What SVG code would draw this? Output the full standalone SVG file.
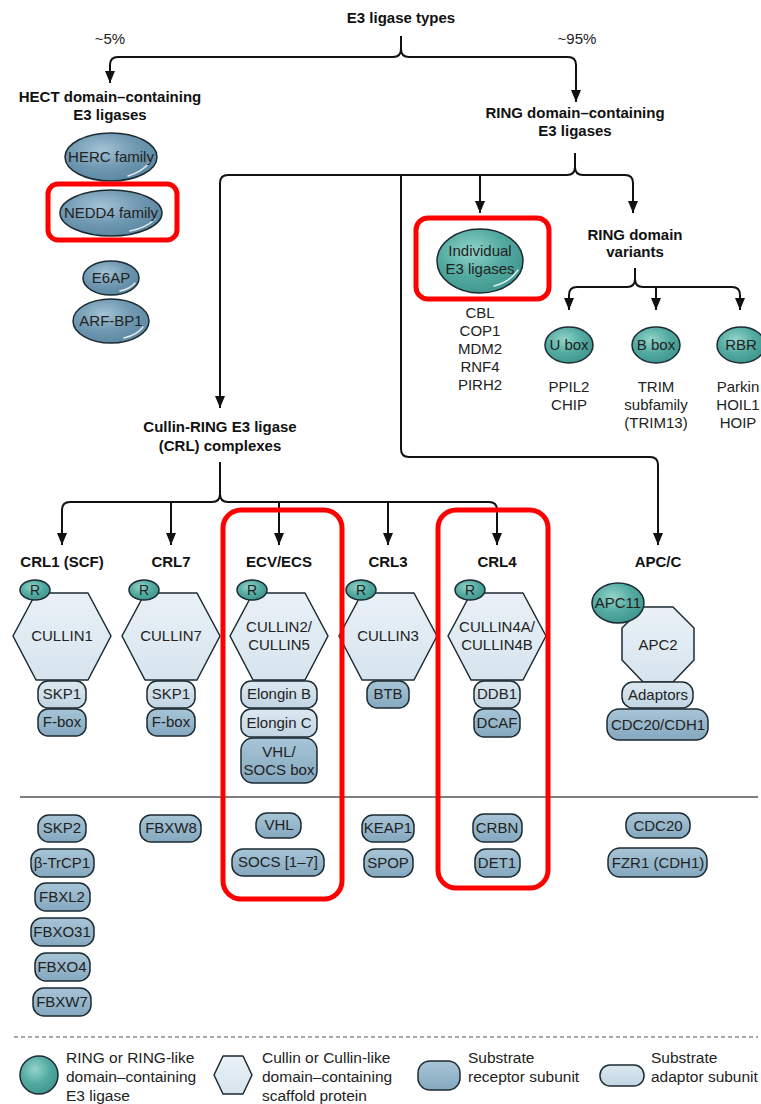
<svg xmlns="http://www.w3.org/2000/svg" width="761" height="1104" viewBox="0 0 761 1104">
<defs>
<style>
.t{font-family:"Liberation Sans",Arial,sans-serif;font-size:15px;fill:#222;text-anchor:middle}
.r{font-family:"Liberation Sans",Arial,sans-serif;font-size:14px;fill:#222;text-anchor:middle}
.lg{font-family:"Liberation Sans",Arial,sans-serif;font-size:15.5px;fill:#222}
.b{font-family:"Liberation Sans",Arial,sans-serif;font-weight:bold;font-size:15px;fill:#111;text-anchor:middle}
.hect{fill:url(#gHect);stroke:#1c2a32;stroke-width:1.5}
.teal{fill:url(#gTeal);stroke:#1c2a32;stroke-width:1.5}
.hex{fill:url(#gHex);stroke:#1c2a32;stroke-width:1.5;stroke-linejoin:round}
.ad{fill:url(#gAd);stroke:#1c2a32;stroke-width:1.5}
.rc{fill:url(#gRc);stroke:#1c2a32;stroke-width:1.5}
.c{fill:none;stroke:#111;stroke-width:2}
.hl{fill:none;stroke:#ff0000;stroke-width:5}
.gl{fill:none;stroke:#ffffff;stroke-width:1.5;stroke-linecap:round;opacity:0.8}
</style>
<radialGradient id="gHect" cx="0.4" cy="0.35" r="0.7"><stop offset="0" stop-color="#a4c3d6"/><stop offset="0.55" stop-color="#6f98b1"/><stop offset="1" stop-color="#5a86a0"/></radialGradient>
<radialGradient id="gTeal" cx="0.4" cy="0.35" r="0.7"><stop offset="0" stop-color="#93d4cb"/><stop offset="0.55" stop-color="#52aaa0"/><stop offset="1" stop-color="#3f958b"/></radialGradient>
<linearGradient id="gHex" x1="0" y1="0" x2="0" y2="1"><stop offset="0" stop-color="#e9f1f7"/><stop offset="1" stop-color="#d7e4ee"/></linearGradient>
<linearGradient id="gAd" x1="0" y1="0" x2="0" y2="1"><stop offset="0" stop-color="#dce9f1"/><stop offset="1" stop-color="#c2d5e3"/></linearGradient>
<linearGradient id="gRc" x1="0" y1="0" x2="0" y2="1"><stop offset="0" stop-color="#a8c5d7"/><stop offset="1" stop-color="#85a8bf"/></linearGradient>
<marker id="ah" markerUnits="userSpaceOnUse" markerWidth="12" markerHeight="10" refX="12" refY="5" orient="auto"><path d="M0,0 L12,5 L0,10 z" fill="#111"/></marker>
</defs>
<rect width="761" height="1104" fill="#fff"/>

<g id="connectors">
<path class="c" d="M401,36 V49 Q401,57 393,57 H118 Q110,57 110,65 V83" marker-end="url(#ah)"/>
<path class="c" d="M401,49 Q401,57 409,57 H568 Q576,57 576,65 V102" marker-end="url(#ah)"/>
<path class="c" d="M575,153 V167 Q575,175 567,175 H228 Q220,175 220,183 V408" marker-end="url(#ah)"/>
<path class="c" d="M575,167 Q575,175 583,175 H625 Q633,175 633,183 V213" marker-end="url(#ah)"/>
<path class="c" d="M480,175 V213" marker-end="url(#ah)"/>
<path class="c" d="M401,175 V449 Q401,457 409,457 H650 Q658,457 658,465 V545" marker-end="url(#ah)"/>
<path class="c" d="M635,268 V279 Q635,287 627,287 H577 Q569,287 569,295 V310" marker-end="url(#ah)"/>
<path class="c" d="M635,279 Q635,287 643,287 H732 Q740,287 740,295 V310" marker-end="url(#ah)"/>
<path class="c" d="M656,287 V310" marker-end="url(#ah)"/>
<path class="c" d="M220,462 V494 Q220,502 212,502 H70 Q62,502 62,510 V545" marker-end="url(#ah)"/>
<path class="c" d="M220,494 Q220,502 228,502 H489 Q497,502 497,510 V545" marker-end="url(#ah)"/>
<path class="c" d="M171,502 V545" marker-end="url(#ah)"/>
<path class="c" d="M279,502 V545" marker-end="url(#ah)"/>
<path class="c" d="M388,502 V545" marker-end="url(#ah)"/>
</g>

<g id="title"><text class="b" x="401" y="23">E3 ligase types</text>
<text class="t" x="110" y="44">~5%</text><text class="t" x="577" y="44">~95%</text></g>

<g id="hect">
<text class="b" x="110" y="102">HECT domain–containing</text>
<text class="b" x="110" y="120">E3 ligases</text>
<g id="herc"><ellipse class="hect" cx="111" cy="157" rx="46" ry="24"/><path class="gl" d="M128,176 Q142,172 150,162"/><text class="t" x="111" y="162">HERC family</text></g>
<g id="nedd4"><ellipse class="hect" cx="111" cy="213" rx="51" ry="23"/><path class="gl" d="M130,231 Q146,228 155,219"/><text class="t" x="111" y="218">NEDD4 family</text></g>
<g id="e6ap"><ellipse class="hect" cx="111" cy="278" rx="28" ry="17"/><path class="gl" d="M120,291 Q130,289 135,283"/><text class="t" x="111" y="283">E6AP</text></g>
<g id="arfbp1"><ellipse class="hect" cx="111" cy="321" rx="38" ry="22"/><path class="gl" d="M124,338 Q137,335 143,327"/><text class="t" x="111" y="326">ARF-BP1</text></g>
</g>

<g id="ring">
<text class="b" x="575" y="118">RING domain–containing</text>
<text class="b" x="575" y="136">E3 ligases</text>
</g>

<g id="individual"><ellipse class="teal" cx="480" cy="261" rx="43" ry="32"/><path class="gl" d="M494,286 Q510,282 518,270"/>
<text class="t" x="480" y="256">Individual</text><text class="t" x="480" y="274">E3 ligases</text>
<text class="t" x="480" y="318">CBL</text><text class="t" x="480" y="336">COP1</text><text class="t" x="480" y="354">MDM2</text><text class="t" x="480" y="372">RNF4</text><text class="t" x="480" y="390">PIRH2</text>
</g>

<g id="variants">
<text class="b" x="635" y="240">RING domain</text><text class="b" x="635" y="257">variants</text>
</g>
<g id="ubox"><ellipse class="teal" cx="569" cy="345" rx="24" ry="18"/><text class="t" x="569" y="350">U box</text>
<text class="t" x="569" y="392">PPIL2</text><text class="t" x="569" y="410">CHIP</text></g>
<g id="bbox"><ellipse class="teal" cx="656" cy="345" rx="24" ry="18"/><text class="t" x="656" y="350">B box</text>
<text class="t" x="656" y="392">TRIM</text><text class="t" x="656" y="410">subfamily</text><text class="t" x="656" y="428">(TRIM13)</text></g>
<g id="rbr"><ellipse class="teal" cx="741" cy="345" rx="24" ry="18"/><text class="t" x="741" y="350">RBR</text>
<text class="t" x="738" y="392">Parkin</text><text class="t" x="738" y="410">HOIL1</text><text class="t" x="738" y="428">HOIP</text></g>

<g id="crl"><text class="b" x="220" y="432">Cullin-RING E3 ligase</text><text class="b" x="220" y="451">(CRL) complexes</text></g>

<g id="crl1">
<text class="b" x="62" y="567">CRL1 (SCF)</text>
<polygon class="hex" points="13,636 36,593 88,593 111,636 88,680 36,680"/>
<ellipse class="teal" cx="35" cy="590" rx="15" ry="10"/><text class="r" x="35" y="595">R</text>
<text class="t" x="62" y="641">CULLIN1</text>
<rect class="ad" x="38" y="681" width="48" height="27" rx="10"/><text class="t" x="62" y="699">SKP1</text>
<rect class="rc" x="38" y="709" width="48" height="27" rx="10"/><text class="t" x="62" y="727">F-box</text>
</g>
<g id="crl7">
<text class="b" x="171" y="567">CRL7</text>
<polygon class="hex" points="122,636 145,593 197,593 220,636 197,680 145,680"/>
<ellipse class="teal" cx="144" cy="590" rx="15" ry="10"/><text class="r" x="144" y="595">R</text>
<text class="t" x="171" y="641">CULLIN7</text>
<rect class="ad" x="147" y="681" width="48" height="27" rx="10"/><text class="t" x="171" y="699">SKP1</text>
<rect class="rc" x="147" y="709" width="48" height="27" rx="10"/><text class="t" x="171" y="727">F-box</text>
</g>
<g id="ecv">
<text class="b" x="279" y="567">ECV/ECS</text>
<polygon class="hex" points="230,636 253,593 305,593 328,636 305,680 253,680"/>
<ellipse class="teal" cx="252" cy="590" rx="15" ry="10"/><text class="r" x="252" y="595">R</text>
<text class="t" x="279" y="632">CULLIN2/</text><text class="t" x="279" y="650">CULLIN5</text>
<rect class="ad" x="241" y="681" width="76" height="27" rx="10"/><text class="t" x="279" y="699">Elongin B</text>
<rect class="ad" x="241" y="709" width="76" height="28" rx="10"/><text class="t" x="279" y="728">Elongin C</text>
<rect class="rc" x="241" y="738" width="76" height="45" rx="12"/><text class="t" x="279" y="757">VHL/</text><text class="t" x="279" y="775">SOCS box</text>
</g>
<g id="crl3">
<text class="b" x="388" y="567">CRL3</text>
<polygon class="hex" points="339,636 362,593 414,593 437,636 414,680 362,680"/>
<ellipse class="teal" cx="361" cy="590" rx="15" ry="10"/><text class="r" x="361" y="595">R</text>
<text class="t" x="388" y="641">CULLIN3</text>
<rect class="rc" x="367" y="681" width="42" height="27" rx="10"/><text class="t" x="388" y="699">BTB</text>
</g>
<g id="crl4">
<text class="b" x="497" y="567">CRL4</text>
<polygon class="hex" points="448,636 471,593 523,593 546,636 523,680 471,680"/>
<ellipse class="teal" cx="470" cy="590" rx="15" ry="10"/><text class="r" x="470" y="595">R</text>
<text class="t" x="497" y="632">CULLIN4A/</text><text class="t" x="497" y="650">CULLIN4B</text>
<rect class="ad" x="474" y="681" width="46" height="27" rx="10"/><text class="t" x="497" y="699">DDB1</text>
<rect class="rc" x="474" y="709" width="46" height="28" rx="10"/><text class="t" x="497" y="728">DCAF</text>
</g>
<g id="apcc">
<text class="b" x="658" y="567">APC/C</text>
<polygon class="hex" points="643,607 673,607 694,628 694,660 673,682 643,682 622,660 622,628"/>
<ellipse class="teal" cx="618" cy="603" rx="26" ry="20"/><text class="t" x="618" y="608">APC11</text>
<text class="t" x="658" y="650">APC2</text>
<rect class="ad" x="622" y="682" width="71" height="26" rx="11"/><text class="t" x="658" y="700">Adaptors</text>
<rect class="rc" x="607" y="709" width="101" height="31" rx="12"/><text class="t" x="658" y="730">CDC20/CDH1</text>
</g>

<line x1="20" y1="797" x2="758" y2="797" stroke="#555" stroke-width="1.5"/>

<g id="substrates">
<rect class="rc" x="38" y="815" width="48" height="27" rx="11"/><text class="t" x="62" y="833">SKP2</text>
<rect class="rc" x="31" y="849" width="63" height="28" rx="11"/><text class="t" x="62" y="868">β-TrCP1</text>
<rect class="rc" x="35" y="883" width="55" height="28" rx="11"/><text class="t" x="62" y="902">FBXL2</text>
<rect class="rc" x="31" y="918" width="63" height="28" rx="11"/><text class="t" x="62" y="937">FBXO31</text>
<rect class="rc" x="35" y="953" width="55" height="28" rx="11"/><text class="t" x="62" y="972">FBXO4</text>
<rect class="rc" x="33" y="988" width="58" height="28" rx="11"/><text class="t" x="62" y="1007">FBXW7</text>
<rect class="rc" x="140" y="815" width="61" height="27" rx="11"/><text class="t" x="171" y="833">FBXW8</text>
<rect class="rc" x="256" y="813" width="45" height="25" rx="11"/><text class="t" x="279" y="830">VHL</text>
<rect class="rc" x="232" y="849" width="92" height="27" rx="11"/><text class="t" x="278" y="867">SOCS [1–7]</text>
<rect class="rc" x="362" y="815" width="52" height="27" rx="11"/><text class="t" x="388" y="833">KEAP1</text>
<rect class="rc" x="364" y="849" width="49" height="28" rx="11"/><text class="t" x="388" y="868">SPOP</text>
<rect class="rc" x="473" y="814" width="49" height="28" rx="11"/><text class="t" x="497" y="833">CRBN</text>
<rect class="rc" x="475" y="849" width="45" height="28" rx="11"/><text class="t" x="497" y="868">DET1</text>
<rect class="rc" x="626" y="813" width="64" height="25" rx="11"/><text class="t" x="658" y="831">CDC20</text>
<rect class="rc" x="608" y="848" width="99" height="29" rx="12"/><text class="t" x="658" y="868">FZR1 (CDH1)</text>
</g>

<g id="highlights">
<rect class="hl" x="48" y="184" width="129" height="56" rx="10"/>
<rect class="hl" x="416" y="218" width="133" height="81" rx="12"/>
<rect class="hl" x="223" y="510" width="119" height="389" rx="18"/>
<rect class="hl" x="438" y="510" width="110" height="378" rx="18"/>
</g>

<line x1="14" y1="1037" x2="758" y2="1037" stroke="#555" stroke-width="1.2" stroke-dasharray="4 3"/>

<g id="legend">
<circle class="teal" cx="39" cy="1075" r="19"/>
<text class="lg" x="66" y="1063">RING or RING-like</text><text class="lg" x="66" y="1082">domain–containing</text><text class="lg" x="66" y="1101">E3 ligase</text>
<polygon class="hex" points="214,1075 223,1056 243,1056 252,1075 243,1094 223,1094"/>
<text class="lg" x="262" y="1063">Cullin or Cullin-like</text><text class="lg" x="262" y="1082">domain–containing</text><text class="lg" x="262" y="1101">scaffold protein</text>
<rect class="rc" x="418" y="1061" width="42" height="29" rx="12"/>
<text class="lg" x="468" y="1063">Substrate</text><text class="lg" x="468" y="1082">receptor subunit</text>
<rect class="ad" x="600" y="1065" width="44" height="21" rx="10"/>
<text class="lg" x="651" y="1063">Substrate</text><text class="lg" x="651" y="1082">adaptor subunit</text>
</g>
</svg>
